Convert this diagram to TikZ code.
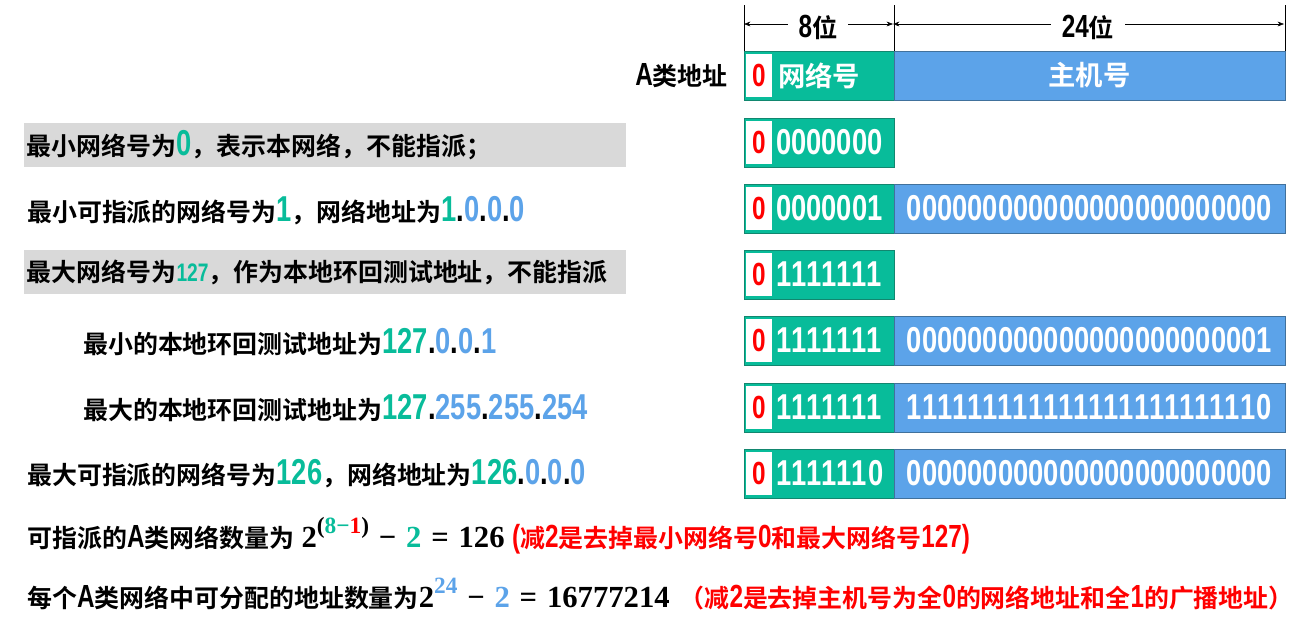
\documentclass[tikz,border=0pt]{standalone}
\usepackage{fontspec}
\setmainfont{Noto Sans CJK SC Bold}
\newfontfamily\nrw[FakeStretch=0.76]{Liberation Sans Bold}
\newfontfamily\mth{Liberation Serif Bold}
\usetikzlibrary{positioning,arrows.meta}
\definecolor{netgreen}{HTML}{08BC9A}
\definecolor{netedge}{HTML}{12876F}
\definecolor{hostblue}{HTML}{5CA3E9}
\definecolor{hostedge}{HTML}{41719C}
\definecolor{hilite}{HTML}{D9D9D9}
\definecolor{alert}{HTML}{FF0000}
\newcommand{\nr}[2][27]{{\nrw\fontsize{#1}{#1}\selectfont #2}}
\newcommand{\gn}[2][27]{\textcolor{netgreen}{\nr[#1]{#2}}}
\newcommand{\bn}[2][27]{\textcolor{hostblue}{\nr[#1]{#2}}}
\newcommand{\dt}{\nr{.}}
\newcommand{\wide}[1]{{\addfontfeature{LetterSpace=4}#1}}
\newcommand{\expo}[1]{\raisebox{0.45em}{\fontsize{17.5}{17.5}\selectfont #1}}
\newcommand{\op}[1]{\hspace{0.32em}#1\hspace{0.32em}}

\begin{document}
\begin{tikzpicture}[
    x=0.75pt, y=-0.75pt,
    >=Stealth,
    txt/.style={inner sep=0pt, anchor=base west, font=\fontsize{18.7}{21}\selectfont},
    band/.style={fill=hilite, anchor=north west, minimum height=33pt, text width=447pt,
      inner xsep=2pt, inner ysep=0pt, align=left, font=\fontsize{18.7}{21}\selectfont},
    netbox/.style={draw=netedge, fill=netgreen, anchor=north west, outer sep=0pt,
      minimum width=112.5pt, minimum height=36.75pt, text=white},
    netbits/.style={netbox, inner xsep=6pt, text width=100.5pt, align=left,
      font=\nrw\fontsize{27}{27}\selectfont, execute at begin node=\hspace*{18pt}},
    hostbox/.style={draw=hostedge, fill=hostblue, outer sep=0pt,
      minimum width=293.25pt, minimum height=36.75pt, text=white,
      font=\nrw\fontsize{27}{27}\selectfont},
    zerobox/.style={fill=white, anchor=west, inner sep=0pt, minimum width=19pt,
      minimum height=32pt, text=alert, font=\nrw\fontsize{24}{24}\selectfont},
    dimlbl/.style={inner xsep=8pt, inner ysep=0pt, font=\fontsize{19}{21}\selectfont},
    dim/.style={->, thin},
    tick/.style={thin},
  ]
    \useasboundingbox (0,0) rectangle (1311,626);

    % header with bit widths
    \node[netbox, font=\fontsize{20.5}{22}\selectfont] (hnet) at (744,51) {网络号};
    \node[hostbox, right=0pt of hnet, font=\fontsize{20.5}{22}\selectfont] (hhost) {主机号};
    \node[zerobox] (hz) at ([xshift=1.5pt]hnet.west) {0};
    \node[txt, anchor=east] (cls) at (728,76) {\nr[24]{A}类地址};

    \coordinate (tA) at (744,24);
    \coordinate (tB) at (893,24);
    \coordinate (tC) at (1284,24);
    \draw[tick] (hnet.north west) -- ++(0,-46);
    \draw[tick] (hnet.north east) -- ++(0,-46);
    \draw[tick] (hhost.north east) -- ++(0,-46);
    \node[dimlbl] (b8) at (818,27) {\nr[24]{8}位};
    \node[dimlbl] (b24) at (1088,27) {\nr[24]{24}位};
    \draw[dim] (b8.west |- tA) -- (tA);
    \draw[dim] (b8.east |- tA) -- (tB);
    \draw[dim] (b24.west |- tB) -- (tB);
    \draw[dim] (b24.east |- tC) -- (tC);

    % address rows
    \node[netbits] (n1) at (744,118) {0000000};
    \node[zerobox] (z1) at ([xshift=1.5pt]n1.west) {0};

    \node[netbits] (n2) at (744,184) {0000001};
    \node[hostbox, right=0pt of n2] (h2) {000000000000000000000000};
    \node[zerobox] (z2) at ([xshift=1.5pt]n2.west) {0};

    \node[netbits] (n3) at (744,250) {\wide{1111111}};
    \node[zerobox] (z3) at ([xshift=1.5pt]n3.west) {0};

    \node[netbits] (n4) at (744,316) {\wide{1111111}};
    \node[hostbox, right=0pt of n4] (h4) {000000000000000000000001};
    \node[zerobox] (z4) at ([xshift=1.5pt]n4.west) {0};

    \node[netbits] (n5) at (744,383) {\wide{1111111}};
    \node[hostbox, right=0pt of n5] (h5) {\wide{111111111111111111111110}};
    \node[zerobox] (z5) at ([xshift=1.5pt]n5.west) {0};

    \node[netbits] (n6) at (744,449) {\wide{1111110}};
    \node[hostbox, right=0pt of n6] (h6) {000000000000000000000000};
    \node[zerobox] (z6) at ([xshift=1.5pt]n6.west) {0};

    % explanations
    \node[band] (l1) at (24,123) {最小网络号为\gn{0}，表示本网络，不能指派；};
    \node[txt] (l2) at (27,221) {最小可指派的网络号为\gn{1}，网络地址为\gn{1}\dt\bn{0}\dt\bn{0}\dt\bn{0}};
    \node[band] (l3) at (24,250) {最大网络号为\gn[19]{127}，作为本地环回测试地址，不能指派};
    \node[txt] (l4) at (83,353) {最小的本地环回测试地址为\gn{127}\dt\bn{0}\dt\bn{0}\dt\bn{1}};
    \node[txt] (l5) at (83,419) {最大的本地环回测试地址为\gn{127}\dt\bn{255}\dt\bn{255}\dt\bn{254}};
    \node[txt] (l6) at (27,484) {最大可指派的网络号为\gn{126}，网络地址为\gn{126}\dt\bn{0}\dt\bn{0}\dt\bn{0}};

    \node[txt] (c1) at (27,547) {可指派的\nr[24]{A}类网络数量为\hspace{0.3em}%
      {\mth\fontsize{23}{25}\selectfont 2\expo{(\textcolor{netgreen}{8−}\textcolor{alert}{1})}\op{−}\textcolor{netgreen}{2}\op{=}126}\hspace{0.3em}%
      \textcolor{alert}{\nr[24]{(}减\nr[24]{2}是去掉最小网络号\nr[24]{0}和最大网络号\nr[24]{127)}}};
    \node[txt] (c2) at (27,607) {每个\nr[24]{A}类网络中可分配的地址数量为%
      {\mth\fontsize{23}{25}\selectfont 2\expo{\textcolor{hostblue}{24}}\op{−}\textcolor{hostblue}{2}\op{=}16777214}\hspace{0.4em}%
      \textcolor{alert}{（减\nr[24]{2}是去掉主机号为全\nr[24]{0}的网络地址和全\nr[24]{1}的广播地址）}};
\end{tikzpicture}
\end{document}
